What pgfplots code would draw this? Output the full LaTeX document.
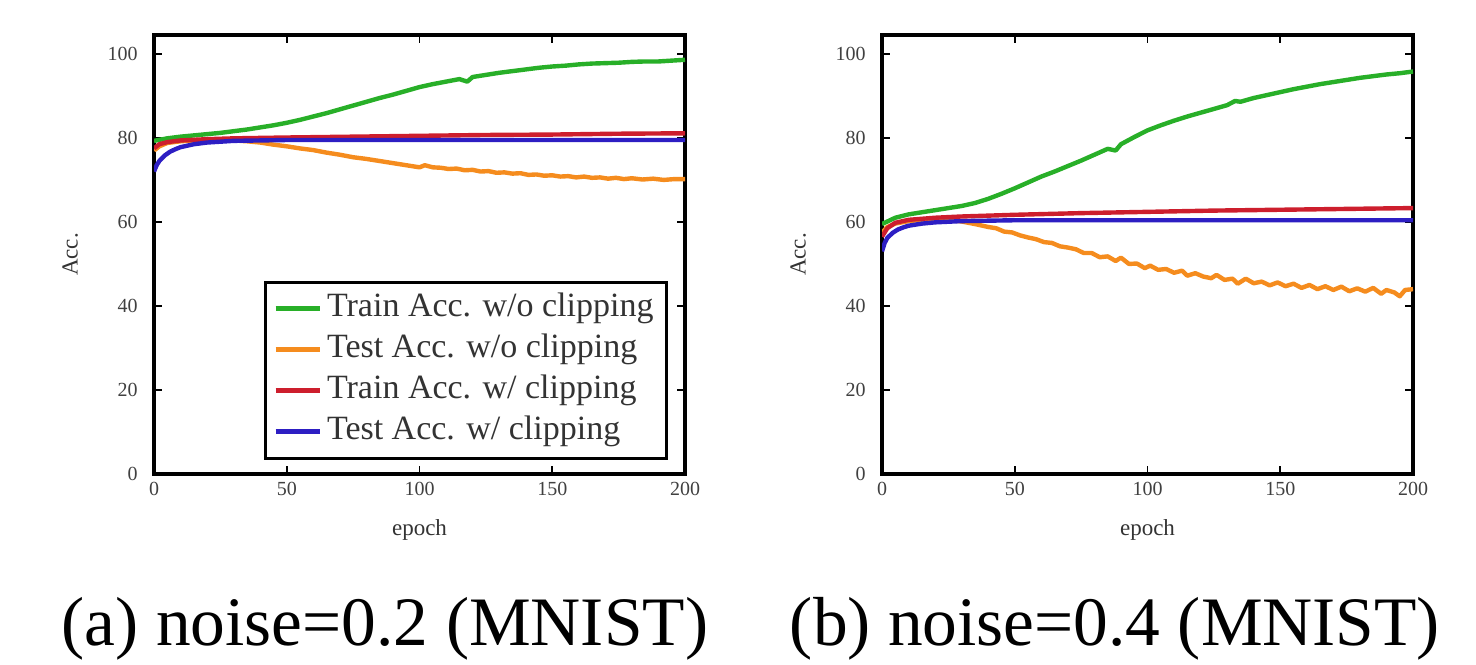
\documentclass[border=0pt]{standalone}
\usepackage{fontspec}
\setmainfont{Liberation Serif}
\usepackage{pgfplots}
\pgfplotsset{compat=1.18}

\definecolor{cgreen}{RGB}{40,175,40}
\definecolor{corange}{RGB}{245,140,30}
\definecolor{cred}{RGB}{205,30,45}
\definecolor{cblue}{RGB}{45,30,195}

\pgfplotsset{
  accstyle/.style={
    scale only axis,
    width=265.5pt, height=219.5pt,
    xmin=0, xmax=200, ymin=0, ymax=104.5,
    xtick={0,50,100,150,200},
    ytick={0,20,40,60,80,100},
    tick align=inside,
    xtick pos=both, ytick pos=both,
    major tick length=4pt,
    tick style={black, line width=0.8pt},
    axis line style={black, line width=2pt},
    /pgf/number format/assume math mode=true,
    tick label style={font=\fontsize{10}{12}\selectfont, text=black!75},
    yticklabel style={anchor=east, inner sep=0pt, xshift=-8pt},
    xticklabel style={anchor=north, inner sep=0pt, yshift=-4pt},
    xlabel={epoch}, ylabel={Acc.},
    label style={font=\fontsize{11.5}{13}\selectfont, text=black!80},
    xlabel style={at={(axis description cs:0.5,-0.128)}, anchor=center},
    ylabel style={at={(axis description cs:-0.158,0.5)}, anchor=center},
    every axis plot/.append style={line width=2.2pt, line join=round},
    legend image code/.code={\draw[#1, line width=2.5pt] (0pt,0pt) -- (22pt,0pt);},
    legend cell align=left,
    legend style={
      at={(0.968,0.032)}, anchor=south east,
      draw=black, line width=1.5pt,
      font=\fontsize{17}{20}\selectfont,
      text=black!80,
      inner xsep=4pt, inner ysep=3pt,
      nodes={text height=11.5pt, text depth=4pt, inner sep=2.5pt},
    },
  }
}

\begin{document}
\begin{tikzpicture}
\useasboundingbox (0,0) rectangle (738pt,332pt);

% (a) noise=0.2
\begin{axis}[accstyle, at={(77pt,95pt)}, anchor=south west]
\addplot[cgreen] coordinates {
(0,79.3) (5,79.9) (10,80.3) (15,80.6) (20,80.9) (25,81.2) (30,81.6) (35,82.0) (40,82.5) (45,83.0)
(50,83.6) (55,84.3) (60,85.1) (65,85.9) (70,86.8) (75,87.7) (80,88.6) (85,89.5) (90,90.3) (95,91.2)
(100,92.1) (105,92.8) (110,93.4) (115,94.0) (118,93.4) (120,94.5) (125,95.0) (130,95.5) (135,95.9) (140,96.3)
(145,96.7) (150,97.0) (155,97.2) (160,97.5) (165,97.7) (170,97.8) (175,97.9) (180,98.1) (185,98.2) (190,98.2)
(195,98.4) (200,98.6)
};
\addlegendentry{Train Acc. w/o clipping}
\addplot[corange] coordinates {
(0,77.0) (2,78.0) (5,78.8) (10,79.2) (15,79.4) (20,79.5) (25,79.5) (30,79.4) (35,79.2) (40,78.9)
(45,78.4) (50,78.0) (55,77.5) (60,77.1) (65,76.5) (70,76.0) (75,75.4) (80,75.0) (85,74.5) (90,74.0)
(95,73.5) (100,73.0) (102,73.5) (105,73.0) (108,72.9) (111,72.6) (114,72.7) (117,72.3) (120,72.4) (123,72.0)
(126,72.1) (129,71.7) (132,71.8) (135,71.5) (138,71.6) (141,71.2) (144,71.3) (147,71.0) (150,71.1) (153,70.8)
(156,70.9) (159,70.6) (162,70.8) (165,70.5) (168,70.6) (171,70.3) (174,70.5) (177,70.2) (180,70.4) (184,70.1)
(188,70.3) (192,70.0) (196,70.2) (200,70.2)
};
\addlegendentry{Test Acc. w/o clipping}
\addplot[cred] coordinates {
(0,77.5) (2,78.5) (5,79.0) (10,79.4) (20,79.7) (30,79.9) (50,80.1) (75,80.3) (100,80.5) (125,80.7)
(150,80.8) (175,81.0) (200,81.1)
};
\addlegendentry{Train Acc. w/ clipping}
\addplot[cblue] coordinates {
(0,72.0) (1,73.5) (2,74.5) (4,75.8) (6,76.7) (8,77.3) (10,77.8) (15,78.5) (20,78.9) (25,79.1)
(30,79.3) (40,79.4) (50,79.5) (100,79.5) (150,79.5) (200,79.5)
};
\addlegendentry{Test Acc. w/ clipping}
\end{axis}

% (b) noise=0.4
\begin{axis}[accstyle, at={(441pt,95pt)}, anchor=south west]
\addplot[cgreen] coordinates {
(0,59.5) (5,61.0) (10,61.8) (15,62.3) (20,62.8) (25,63.3) (30,63.8) (35,64.5) (40,65.5) (45,66.7)
(50,68.0) (55,69.4) (60,70.8) (65,72.0) (70,73.3) (75,74.6) (80,76.0) (85,77.4) (88,77.0) (90,78.5)
(95,80.2) (100,81.8) (105,83.0) (110,84.1) (115,85.1) (120,86.0) (125,86.9) (130,87.8) (133,88.8) (135,88.6) (140,89.5)
(145,90.2) (150,90.9) (155,91.6) (160,92.2) (165,92.8) (170,93.3) (175,93.8) (180,94.3) (185,94.7) (190,95.1)
(195,95.4) (200,95.8)
};
\addplot[corange] coordinates {
(0,57.5) (2,58.8) (5,59.6) (10,60.2) (15,60.5) (20,60.6) (25,60.5) (30,60.1) (35,59.5) (40,58.8)
(43,58.5) (46,57.7) (49,57.5) (52,56.8) (55,56.3) (58,55.9) (61,55.2) (64,55.0) (67,54.2) (70,53.9)
(73,53.5) (76,52.6) (79,52.6) (82,51.6) (85,51.8) (88,50.7) (90,51.5) (93,50.0) (96,50.1) (99,49.0)
(101,49.6) (104,48.6) (107,48.8) (110,47.9) (113,48.4) (115,47.2) (118,47.8) (121,47.0) (124,46.6) (126,47.4)
(129,46.2) (132,46.5) (134,45.3) (137,46.5) (140,45.4) (143,45.8) (146,44.9) (149,45.6) (152,44.7) (155,45.3)
(158,44.3) (161,45.0) (164,44.0) (167,44.7) (170,43.8) (173,44.6) (176,43.5) (179,44.2) (182,43.4) (185,44.3)
(188,42.9) (190,43.8) (193,43.2) (195,42.3) (197,43.8) (200,44.0)
};
\addplot[cred] coordinates {
(0,56.5) (2,58.5) (5,59.8) (10,60.5) (20,61.0) (30,61.3) (50,61.7) (75,62.1) (100,62.4) (125,62.7)
(150,62.9) (175,63.1) (200,63.3)
};
\addplot[cblue] coordinates {
(0,53.0) (1,55.0) (2,56.2) (4,57.4) (6,58.2) (8,58.7) (10,59.1) (15,59.6) (20,59.9) (30,60.2)
(50,60.4) (100,60.4) (150,60.4) (200,60.4)
};
\end{axis}

\node[font=\fontsize{34.7}{40}\selectfont, anchor=base] at (192.5pt,9.5pt) {(a) noise=0.2 (MNIST)};
\node[font=\fontsize{34.7}{40}\selectfont, anchor=base] at (557.5pt,9.5pt) {(b) noise=0.4 (MNIST)};
\end{tikzpicture}
\end{document}
